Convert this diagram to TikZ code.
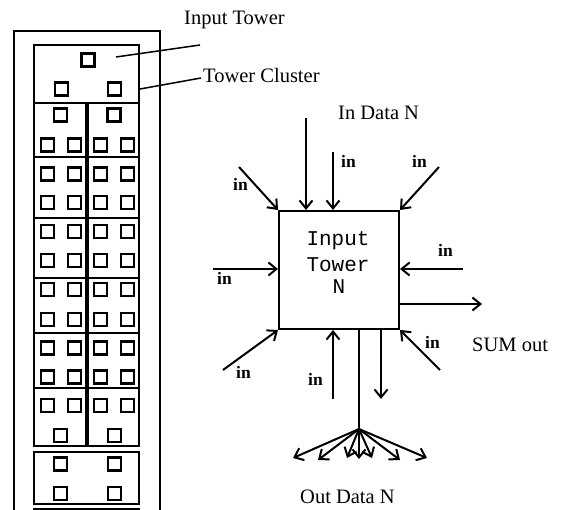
\documentclass[tikz,border=0pt]{standalone}
\usepackage{fontspec}
\setmainfont{Liberation Serif}
\newfontfamily\monof{Liberation Mono}
\usetikzlibrary{arrows.meta}
\begin{document}
\begin{tikzpicture}[x=1pt,y=-1pt,
  cell/.style={draw, line width=2.2pt},
  sqline/.style={draw, line width=2.6pt},
  lead/.style={draw, line width=1.5pt},
  conn/.style={draw, line width=2pt},
  arr/.style={draw, line width=2pt, -{Straight Barb[length=8pt,width=13pt,line width=2pt]}},
  lbl/.style={anchor=base west, inner sep=0pt, font=\fontsize{20.5}{24}\selectfont},
  inl/.style={anchor=base west, inner sep=0pt, font=\fontsize{17.5}{20}\selectfont\bfseries},
  boxtxt/.style={anchor=base, inner sep=0pt, font=\fontsize{21}{24}\selectfont\monof}]
\useasboundingbox (0,0) rectangle (561,510);
\clip (0,0) rectangle (561,510);
\newcommand\sqr[2]{\draw[sqline] (#1-6.5,#2-6.5) rectangle (#1+6.5,#2+6.5);}
% outer frame
\draw[line width=2pt] (14,520) -- (14,31) -- (160,31) -- (160,520);
% top cluster box
\draw[cell] (34,45) rectangle (139,103);
\sqr{88}{60}\sqr{61.5}{89}\sqr{114.5}{89}
% half boxes
\foreach \t/\b in {103/157,157/218,218/278,278/333,333/388,388/446}{
  \draw[cell] (34,\t) rectangle (86,\b);
  \draw[cell] (88,\t) rectangle (139,\b);
}
% row 2
\sqr{60.5}{115}\sqr{114}{115}
\foreach \x in {47.5,74.5,100.5,127.5}{\sqr{\x}{145}}
% rows 3-6
\foreach \y in {174,202.5,231.5,260.5,289.5,319.5,348,377}{
  \foreach \x in {47.5,74.5,100.5,127.5}{\sqr{\x}{\y}}
}
% row 7
\foreach \x in {47.5,74.5,100.5,127.5}{\sqr{\x}{405.5}}
\sqr{60.5}{435.5}\sqr{114.5}{435.5}
% bottom box
\draw[cell] (34,452) rectangle (139,504);
\sqr{60.5}{464}\sqr{114.5}{464}\sqr{60.5}{493.5}\sqr{114.5}{493.5}
\draw[cell] (34,509) rectangle (139,540);
% leader labels
\node[lbl] (lIT) at (184,25) {Input Tower};
\node[lbl] (lTC) at (203,83) {Tower Cluster};
\coordinate (pIT) at (116,57);
\coordinate (pTC) at (140,89);
\coordinate (eIT) at (200,45);
\coordinate (eTC) at (201,78);
\draw[lead] (pIT) -- (eIT);
\draw[lead] (pTC) -- (eTC);
% central tower
\node[draw, line width=2pt, minimum width=120pt, minimum height=118pt, inner sep=0pt] (tower) at (339,270) {};
\node[boxtxt] (t1) at (338,246) {Input};
\node[boxtxt] (t2) at (338,271) {Tower};
\node[boxtxt] (t3) at (339,293) {N};
% labels
\node[lbl] (inData) at (338,120) {In Data N};
\node[lbl] (sumOut) at (472,351) {SUM out};
\node[lbl] (outData) at (300,503) {Out Data N};
\node[inl] (i2) at (341,168) {in};
\node[inl] (i3) at (233,191) {in};
\node[inl] (i4) at (412,168) {in};
\node[inl] (i5) at (217,284) {in};
\node[inl] (i6) at (236,378) {in};
\node[inl] (i7) at (438,256) {in};
\node[inl] (i9) at (425,348) {in};
\node[inl] (i10) at (308,385) {in};
% arrow start points
\coordinate (a1) at (306,118);
\coordinate (a2) at (333,152);
\coordinate (a3) at (239,167);
\coordinate (a4) at (439,167);
\coordinate (a5) at (213,269);
\coordinate (a6) at (223,370);
\coordinate (a7) at (463,269);
\coordinate (a8) at (482,304);
\coordinate (a9) at (440,370);
\coordinate (a10) at (333,399);
\coordinate (fan) at (359,429);
\coordinate (a12) at (381,399);
% arrows
\draw[arr] (a1) -- (a1 |- tower.north);
\draw[arr] (a2) -- (a2 |- tower.north);
\draw[arr] (a3) -- (tower.north west);
\draw[arr] (a4) -- (tower.north east);
\draw[arr] (a5) -- (a5 -| tower.west);
\draw[arr] (a6) -- (tower.south west);
\draw[arr] (a7) -- (a7 -| tower.east);
\draw[arr] (a8 -| tower.east) -- (a8);
\draw[arr] (a9) -- (tower.south east);
\draw[arr] (a10) -- (a10 |- tower.south);
\draw[conn] (fan |- tower.south) -- (fan);
\draw[arr] (a12 |- tower.south) -- (a12);
% fan out
\foreach \x/\y in {293/458,318/460,347/458,359/459,372/458,400/460,427/458}{
  \draw[arr] (fan) -- (\x,\y);
}
\end{tikzpicture}
\end{document}
